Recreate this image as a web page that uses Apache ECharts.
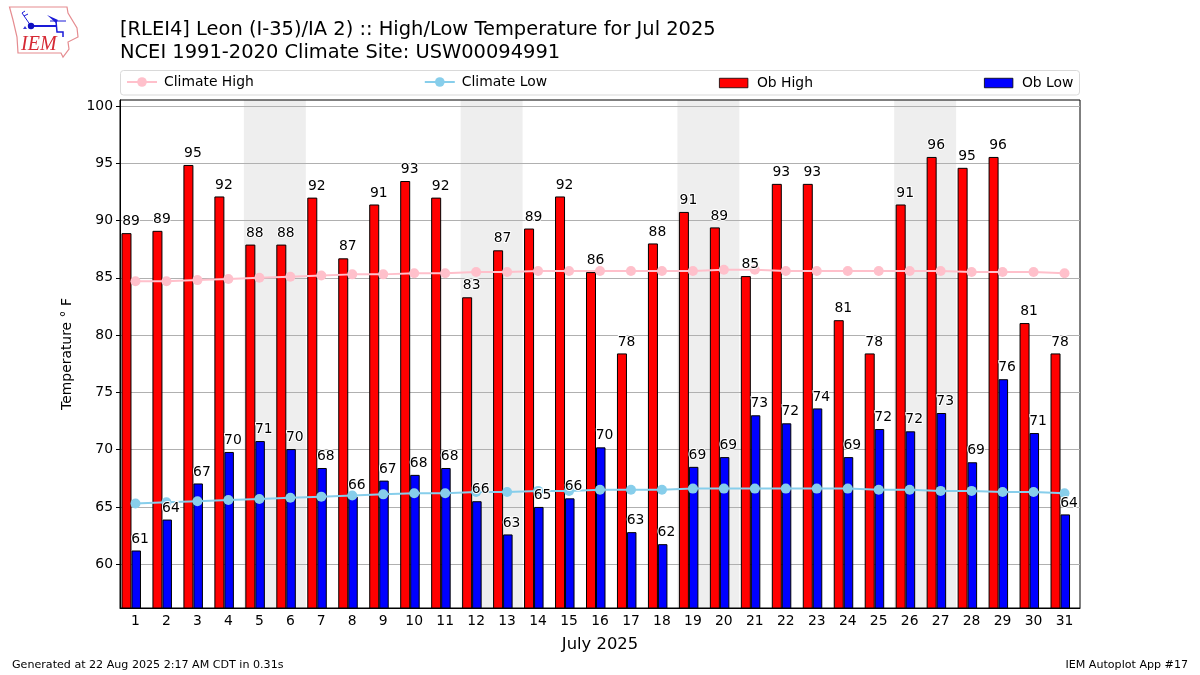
<!DOCTYPE html>
<html>
<head>
<meta charset="utf-8">
<title>High/Low Temperature</title>
<script src="https://cdn.jsdelivr.net/npm/echarts@6/dist/echarts.min.js"></script>
<style>html,body{margin:0;padding:0;background:#fff}</style>
</head>
<body>
<div id="main" style="width:1200px;height:675px;"></div>
<script type="text/javascript">
var days = ['1','2','3','4','5','6','7','8','9','10','11','12','13','14','15','16','17','18','19','20','21','22','23','24','25','26','27','28','29','30','31'];
var obHigh = [88.9,89.1,94.85,92.1,87.9,87.9,92.0,86.7,91.4,93.45,92.0,83.3,87.4,89.3,92.1,85.5,78.4,88.0,90.75,89.4,85.15,93.2,93.2,81.3,78.4,91.4,95.55,94.6,95.55,81.05,78.4];
var obLow = [61.2,63.9,67.05,69.8,70.75,70.05,68.4,65.9,67.3,67.8,68.4,65.5,62.6,65.0,65.75,70.2,62.8,61.75,68.5,69.35,73.0,72.3,73.6,69.35,71.8,71.6,73.2,68.9,76.15,71.45,64.35];
var climateHigh = [84.7,84.7,84.8,84.9,85.0,85.1,85.2,85.3,85.3,85.4,85.4,85.5,85.5,85.6,85.6,85.6,85.6,85.6,85.6,85.7,85.7,85.6,85.6,85.6,85.6,85.6,85.6,85.5,85.5,85.5,85.4];
var climateLow = [65.3,65.4,65.5,65.6,65.7,65.8,65.9,66.0,66.1,66.2,66.2,66.3,66.3,66.4,66.4,66.5,66.5,66.5,66.6,66.6,66.6,66.6,66.6,66.6,66.5,66.5,66.4,66.4,66.3,66.3,66.2];
var yTicks = [60,65,70,75,80,85,90,95,100];
var weekends = [[4.5,6.5],[11.5,13.5],[18.5,20.5],[25.5,27.5]];

var FONT = 'DejaVu Sans';
var BLUE = '#1a1ad8';
var mychart = echarts.init(document.getElementById('main'));

// labels live on their own series so they stay above the climate lines
function labelSeries(name, values, dx) {
    return {
        name: name,
        type: 'scatter',
        data: values,
        symbolSize: 1,
        itemStyle: { color: 'transparent', opacity: 1 },
        silent: true,
        z: 5,
        label: {
            show: true,
            position: 'top',
            distance: 4,
            offset: [dx, 0],
            color: '#000',
            fontFamily: FONT,
            fontSize: 13.9,
            textBorderColor: '#fff',
            textBorderWidth: 2,
            formatter: function (p) { return Math.round(p.data); }
        }
    };
}

function climateLine(name, values, color) {
    return {
        name: name,
        type: 'line',
        data: values,
        symbol: 'circle',
        symbolSize: 10,
        showSymbol: true,
        lineStyle: { color: color, width: 2 },
        itemStyle: { color: color },
        z: 3,
        animation: false
    };
}

function titleText(text, pos, size) {
    var t = { text: text, top: pos.top, padding: 0,
        textStyle: { fontFamily: FONT, fontSize: size, fontWeight: 'normal', color: '#000' } };
    if (pos.left !== undefined) t.left = pos.left;
    if (pos.right !== undefined) t.right = pos.right;
    return t;
}

var option = {
    animation: false,
    textStyle: { fontFamily: FONT },
    title: [
        titleText('[RLEI4] Leon (I-35)/IA 2) :: High/Low Temperature for Jul 2025', { left: 120, top: 20 }, 19.44),
        titleText('NCEI 1991-2020 Climate Site: USW00094991', { left: 120, top: 43 }, 19.44),
        titleText('Generated at 22 Aug 2025 2:17 AM CDT in 0.31s', { left: 12, top: 660 }, 11.1),
        titleText('IEM Autoplot App #17', { right: 12, top: 660 }, 11.1)
    ],
    legend: [
        {
            left: 126,
            top: 75,
            padding: 0,
            itemGap: 170,
            itemWidth: 30,
            itemHeight: 12,
            textStyle: { fontFamily: FONT, fontSize: 13.9, color: '#000', padding: [0, 0, 0, 2] },
            data: ['Climate High', 'Climate Low']
        },
        {
            left: 719,
            top: 76,
            padding: 0,
            itemGap: 171,
            itemWidth: 28.5,
            itemHeight: 9.5,
            itemStyle: { borderWidth: 0.8 },
            textStyle: { fontFamily: FONT, fontSize: 13.9, color: '#000', padding: [0, 0, 0, 4] },
            data: [{ name: 'Ob High', icon: 'rect' }, { name: 'Ob Low', icon: 'rect' }]
        }
    ],
    grid: { left: 120, top: 100, width: 960, height: 508, show: true, borderColor: '#000', borderWidth: 1, backgroundColor: 'transparent' },
    xAxis: [
        {
            type: 'category',
            data: days,
            name: 'July 2025',
            nameLocation: 'middle',
            nameGap: 29,
            nameTextStyle: { fontFamily: FONT, fontSize: 16.4, color: '#000' },
            axisTick: { alignWithLabel: true, length: 4, lineStyle: { color: '#000' } },
            axisLine: { lineStyle: { color: '#000' } },
            axisLabel: { interval: 0, color: '#000', fontFamily: FONT, fontSize: 13.9, margin: 6 },
            splitLine: { show: false }
        },
        { type: 'value', min: 0.5, max: 31.5, show: false, splitLine: { show: false } }
    ],
    yAxis: {
        type: 'value',
        min: 56.18,
        max: 100.52,
        name: 'Temperature ° F',
        nameLocation: 'middle',
        nameGap: 46,
        nameTextStyle: { fontFamily: FONT, fontSize: 13.9, color: '#000' },
        axisLine: { show: true, lineStyle: { color: '#000' } },
        axisTick: { show: true, length: 4, lineStyle: { color: '#000' }, customValues: yTicks },
        axisLabel: { color: '#000', fontFamily: FONT, fontSize: 13.9, margin: 7, customValues: yTicks },
        splitLine: { show: true, lineStyle: { color: '#b0b0b0', width: 1 } }
    },
    series: [
        {
            name: 'weekend',
            type: 'line',
            xAxisIndex: 1,
            data: [],
            z: -1,
            silent: true,
            markArea: {
                z: -1,
                silent: true,
                itemStyle: { color: '#eeeeee' },
                data: weekends.map(function (w) { return [{ xAxis: w[0] }, { xAxis: w[1] }]; })
            }
        },
        {
            name: 'Ob High',
            type: 'bar',
            data: obHigh,
            barWidth: 10,
            barGap: '0%',
            itemStyle: { color: '#ff0000', borderColor: '#000', borderWidth: 1 }
        },
        {
            name: 'Ob Low',
            type: 'bar',
            data: obLow,
            barWidth: 9.5,
            barGap: '0%',
            itemStyle: { color: '#0000ff', borderColor: '#000', borderWidth: 1 }
        },
        // empty, pushes the pair left so the low bar sits on the tick
        { name: 'spacer', type: 'bar', data: [], barWidth: 8.5, barGap: '0%' },
        climateLine('Climate High', climateHigh, '#ffc0cb'),
        climateLine('Climate Low', climateLow, '#87ceeb'),
        labelSeries('high labels', obHigh, -4.5),
        labelSeries('low labels', obLow, 4.5)
    ],
    graphic: [
        // legend frame
        { type: 'rect', shape: { x: 120.5, y: 70.5, width: 959, height: 24.5, r: 3 },
          style: { fill: '#fff', stroke: '#d9d9d9', lineWidth: 1 } },
        // IEM logo
        { type: 'polygon', shape: { points: [[9.5,7],[67,7],[68,13],[77,28],[78,37],[68,42],[69,49],[63,57],[61,53],[18,53],[17,37],[13,20]] },
          style: { fill: '#fff', stroke: '#e58c90', lineWidth: 1.2 } },
        { type: 'polyline', shape: { points: [[32,26],[56,26]] }, style: { stroke: BLUE, lineWidth: 2, fill: null } },
        { type: 'polyline', shape: { points: [[50,21],[66,21]] }, style: { stroke: BLUE, lineWidth: 1, fill: null } },
        { type: 'polyline', shape: { points: [[56,21],[57,32],[63,32],[63,37]] }, style: { stroke: BLUE, lineWidth: 1.5, fill: null } },
        { type: 'polyline', shape: { points: [[31,26],[22,13],[25,11]] }, style: { stroke: BLUE, lineWidth: 1, fill: null } },
        { type: 'polyline', shape: { points: [[24,16],[28,14]] }, style: { stroke: BLUE, lineWidth: 1, fill: null } },
        { type: 'circle', shape: { cx: 31, cy: 26, r: 3.2 }, style: { fill: '#1010c0' } },
        { type: 'polygon', shape: { points: [[47,15],[58,20],[56,23]] }, style: { fill: BLUE } },
        { type: 'polygon', shape: { points: [[25,26],[27,29],[23,29]] }, style: { fill: '#3a3ad8' } },
        { type: 'text', x: 21, y: 35, style: { text: 'IEM', font: 'italic 20px "Liberation Serif"', fill: '#d62a35' } }
    ]
};
mychart.setOption(option);
</script>
</body>
</html>
